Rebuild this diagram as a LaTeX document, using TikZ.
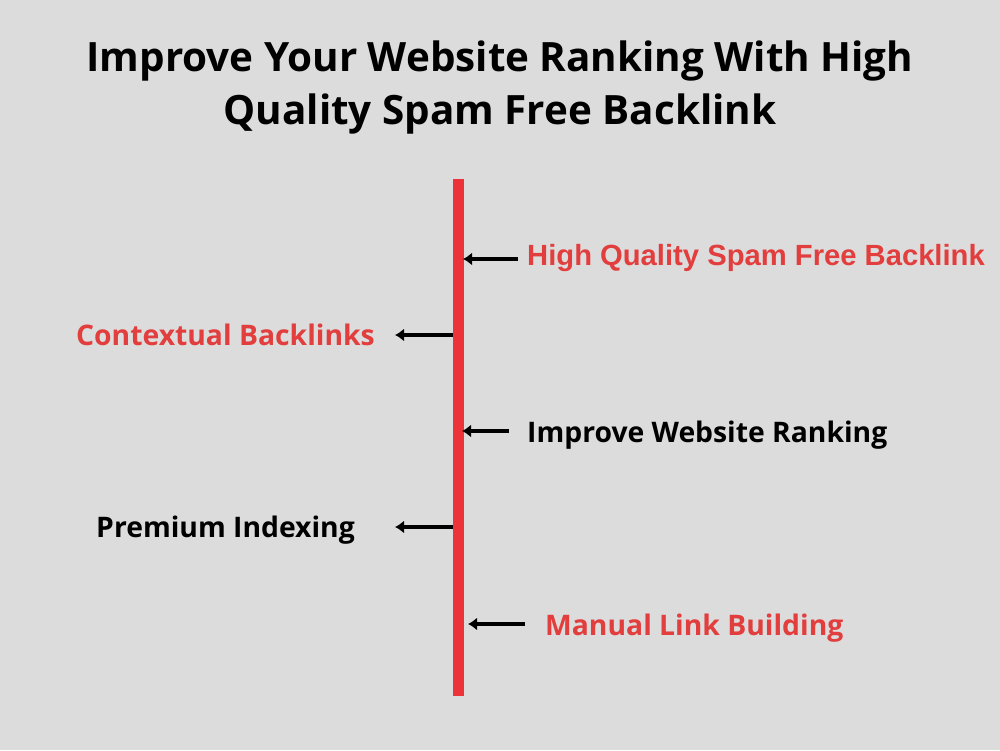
\documentclass[tikz,border=0pt]{standalone}
\usepackage{fontspec}
\setmainfont{Open Sans}
\newfontfamily\arialb{Liberation Sans}[BoldFont={* Bold}]
\usetikzlibrary{arrows.meta}
\definecolor{bgc}{RGB}{220,220,220}
\definecolor{redline}{RGB}{236,52,56}
\definecolor{redtxt}{RGB}{226,62,62}
\tikzset{
  x=1pt, y=1pt,
  lbl/.style={inner sep=0pt, text height=20.2pt, text depth=0pt, font=\fontsize{28.3}{33}\selectfont\bfseries},
  ttl/.style={inner sep=0pt, align=center, font=\fontsize{40.4}{53}\selectfont\bfseries},
  arr/.style={line width=4pt, -{Latex[length=9pt,width=13pt]}},
}
\begin{document}
\begin{tikzpicture}
\fill[bgc] (0,0) rectangle (1000,750);
\useasboundingbox (0,0) rectangle (1000,750);
\node[ttl] (title) at (500,662) {Improve Your Website Ranking With High\\Quality Spam Free Backlink};
\fill[redline] (453,54) rectangle (464,571);
\node[lbl, anchor=west, text=redtxt, text height=20.9pt, font=\arialb\fontsize{29.2}{34}\selectfont\bfseries] (n1) at (527,495) {High Quality Spam Free Backlink};
\node[lbl, anchor=east, text=redtxt] (n2) at (375,415) {Contextual Backlinks};
\node[lbl, anchor=west, text=black] (n3) at (527,318) {Improve Website Ranking};
\node[lbl, anchor=east, text=black] (n4) at (355,223) {Premium Indexing};
\node[lbl, anchor=west, text=redtxt] (n5) at (545,125) {Manual Link Building};
\coordinate (h1) at (463,491);
\coordinate (s2) at (453,415);
\coordinate (h2) at (395,415);
\coordinate (h3) at (462,319);
\coordinate (s4) at (453,223);
\coordinate (h4) at (395,223);
\coordinate (h5) at (468,126);
\draw[arr] (518,491) coordinate (s1) -- (h1);
\draw[arr] (s2) -- (h2);
\draw[arr] (509,319) coordinate (s3) -- (h3);
\draw[arr] (s4) -- (h4);
\draw[arr] (525,126) coordinate (s5) -- (h5);
\end{tikzpicture}
\end{document}
